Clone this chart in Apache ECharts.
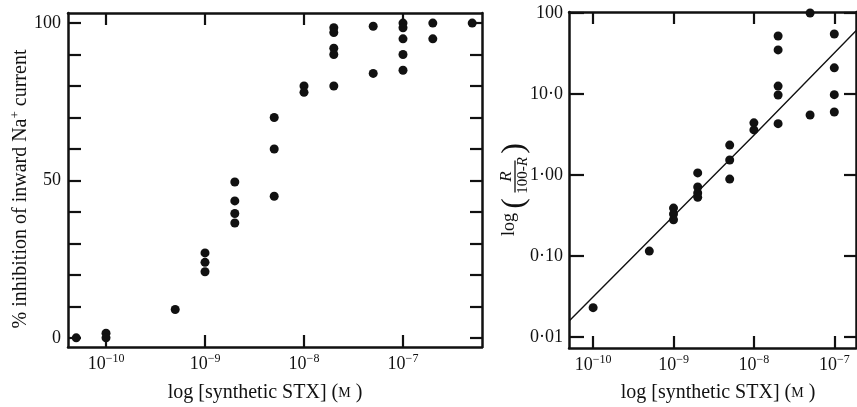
<!DOCTYPE html>
<html>
<head>
<meta charset="utf-8">
<script src="https://cdn.jsdelivr.net/npm/echarts@6/dist/echarts.min.js"></script>
<style>
  html, body { margin: 0; padding: 0; background: #fff; }
  #chart { width: 857px; height: 407px; }
</style>
</head>
<body>
<div id="chart"></div>
<script>
// left panel: % inhibition vs concentration (M)
var leftConc = [5e-11, 1e-10, 5e-10, 1e-9, 2e-9, 5e-9, 1e-8, 2e-8, 5e-8, 1e-7, 2e-7, 5e-7];
var leftInhib = [
  [0],
  [1.5, 0],
  [9],
  [27, 24, 21],
  [49.5, 43.5, 39.5, 36.5],
  [70, 60, 45],
  [80, 78],
  [98.5, 97, 92, 90, 80],
  [99, 84],
  [100, 98.5, 95, 90, 85],
  [100, 95],
  [100]
];

// right panel: R/(100-R) vs concentration (M)
var rightConc = [1e-10, 5e-10, 1e-9, 2e-9, 5e-9, 1e-8, 2e-8, 5e-8, 1e-7];
var rightRatio = [
  [0.023],
  [0.115],
  [0.39, 0.33, 0.28],
  [1.06, 0.71, 0.6, 0.53],
  [2.34, 1.53, 0.89],
  [4.4, 3.6],
  [52, 35, 12.5, 9.7, 4.3],
  [100, 5.5],
  [55, 21, 9.8, 6]
];

// fitted line on the right panel
var fitConc = [5.1e-11, 1e-8, 1.95e-7];
var fitRatio = [0.016, 3.1, 63];

var decadeTicks = [1e-10, 1e-9, 1e-8, 1e-7];
var pctTicks = [0, 10, 20, 30, 40, 50, 60, 70, 80, 90, 100];
var pctLabels = [0, 50, 100];
var ratioTicks = [0.01, 0.1, 1, 10, 100];
var ratioLabels = { '-2': '0·01', '-1': '0·10', '0': '1·00', '1': '10·0', '2': '100' };

var serif = '"Liberation Serif", "DejaVu Serif", serif';
var ink = '#111';

function pairs(xs, groups) {
  var out = [];
  for (var i = 0; i < xs.length; i++) {
    for (var j = 0; j < groups[i].length; j++) out.push([xs[i], groups[i][j]]);
  }
  return out;
}

function powLabel(v) {
  var e = Math.round(Math.log10(v));
  return '{b|10}{s|' + (e < 0 ? '\u2212' + (-e) : e) + '}';
}
var powRich = {
  b: { fontSize: 18, fontFamily: serif, color: ink, lineHeight: 20, verticalAlign: 'bottom' },
  s: { fontSize: 12, fontFamily: serif, color: ink, lineHeight: 12, verticalAlign: 'top' }
};

var axisLine = { show: true, onZero: false, lineStyle: { color: ink, width: 2.5 } };

function xAx(grid, min, max, pos, labels) {
  return {
    gridIndex: grid, type: 'log', logBase: 10, min: min, max: max, position: pos,
    axisLine: axisLine,
    axisTick: { show: true, inside: true, length: 12, customValues: decadeTicks, lineStyle: { color: ink, width: 2.2 } },
    axisLabel: labels ? { show: true, customValues: decadeTicks, formatter: powLabel, rich: powRich, margin: 6 } : { show: false },
    splitLine: { show: false }, minorTick: { show: false }
  };
}

var myChart = echarts.init(document.getElementById('chart'));
myChart.setOption({
  backgroundColor: '#fff',
  animation: false,
  grid: [
    { left: 68, top: 13, width: 414, height: 334 },
    { left: 569, top: 12, width: 287, height: 336 }
  ],
  xAxis: [
    xAx(0, Math.pow(10, -10.384), Math.pow(10, -6.202), 'bottom', true),
    xAx(0, Math.pow(10, -10.384), Math.pow(10, -6.202), 'top', false),
    xAx(1, Math.pow(10, -10.3), Math.pow(10, -6.73), 'bottom', true),
    xAx(1, Math.pow(10, -10.3), Math.pow(10, -6.73), 'top', false)
  ],
  yAxis: [
    {
      gridIndex: 0, type: 'value', min: -2.9, max: 103.2, position: 'left',
      axisLine: axisLine,
      axisTick: { show: true, inside: true, length: 13, customValues: pctTicks, lineStyle: { color: ink, width: 2.2 } },
      axisLabel: { show: true, customValues: pctLabels, fontSize: 18, fontFamily: serif, color: ink, margin: 7 },
      splitLine: { show: false }
    },
    {
      gridIndex: 0, type: 'value', min: -2.9, max: 103.2, position: 'right',
      axisLine: axisLine,
      axisTick: { show: true, inside: true, length: 12, customValues: pctTicks, lineStyle: { color: ink, width: 2.2 } },
      axisLabel: { show: false },
      splitLine: { show: false }
    },
    {
      gridIndex: 1, type: 'log', logBase: 10, min: Math.pow(10, -2.136), max: Math.pow(10, 2.012), position: 'left',
      axisLine: axisLine,
      axisTick: { show: true, inside: true, length: 15, customValues: ratioTicks, lineStyle: { color: ink, width: 2.2 } },
      axisLabel: {
        show: true, customValues: ratioTicks, fontSize: 18, fontFamily: serif, color: ink, margin: 6,
        formatter: function (v) { return ratioLabels[String(Math.round(Math.log10(v)))]; }
      },
      splitLine: { show: false }, minorTick: { show: false }
    },
    {
      gridIndex: 1, type: 'log', logBase: 10, min: Math.pow(10, -2.136), max: Math.pow(10, 2.012), position: 'right',
      axisLine: axisLine,
      axisTick: { show: true, inside: true, length: 12, customValues: ratioTicks, lineStyle: { color: ink, width: 2.2 } },
      axisLabel: { show: false },
      splitLine: { show: false }, minorTick: { show: false }
    }
  ],
  series: [
    {
      type: 'scatter', xAxisIndex: 0, yAxisIndex: 0,
      symbol: 'circle', symbolSize: 9,
      itemStyle: { color: ink, opacity: 1 },
      data: pairs(leftConc, leftInhib)
    },
    {
      type: 'scatter', xAxisIndex: 2, yAxisIndex: 2,
      symbol: 'circle', symbolSize: 9,
      itemStyle: { color: ink, opacity: 1 },
      data: pairs(rightConc, rightRatio)
    },
    {
      type: 'line', xAxisIndex: 2, yAxisIndex: 2,
      symbol: 'none', smooth: false, clip: true,
      lineStyle: { color: ink, width: 1.4 },
      data: fitConc.map(function (c, i) { return [c, fitRatio[i]]; })
    }
  ],
  graphic: [
    // left y title
    {
      type: 'text', x: 20, y: 189, rotation: Math.PI / 2,
      style: {
        text: '{t|% inhibition of inward Na}{s|+}{t| current}',
        align: 'center', verticalAlign: 'middle', fill: ink,
        rich: {
          t: { fontSize: 20, fontFamily: serif, fill: ink, lineHeight: 22, verticalAlign: 'bottom' },
          s: { fontSize: 13, fontFamily: serif, fill: ink, lineHeight: 13, verticalAlign: 'top' }
        }
      }
    },
    // x titles
    {
      type: 'text', x: 265, y: 393,
      style: {
        text: '{t|log [synthetic STX] (}{m|M}{t| )}',
        align: 'center', verticalAlign: 'middle', fill: ink,
        rich: { t: { fontSize: 20, fontFamily: serif, fill: ink }, m: { fontSize: 14, fontFamily: serif, fill: ink } }
      }
    },
    {
      type: 'text', x: 718, y: 393,
      style: {
        text: '{t|log [synthetic STX] (}{m|M}{t| )}',
        align: 'center', verticalAlign: 'middle', fill: ink,
        rich: { t: { fontSize: 20, fontFamily: serif, fill: ink }, m: { fontSize: 14, fontFamily: serif, fill: ink } }
      }
    },
    // right y title: log( R / (100-R) )
    {
      type: 'group', x: 512, y: 186.5, rotation: Math.PI / 2,
      children: [
        { type: 'text', x: -38, y: -3, style: { text: 'log', fontSize: 18, fontFamily: serif, fill: ink, align: 'center', verticalAlign: 'middle' } },
        { type: 'text', x: -17, y: 3, style: { text: '(', fontSize: 32, fontFamily: serif, fill: ink, align: 'center', verticalAlign: 'middle' } },
        { type: 'text', x: 10, y: -5, style: { text: 'R', fontSize: 17, fontStyle: 'italic', fontFamily: serif, fill: ink, align: 'center', verticalAlign: 'middle' } },
        { type: 'line', shape: { x1: -6, y1: 3, x2: 26, y2: 3 }, style: { stroke: ink, lineWidth: 1.3 } },
        {
          type: 'text', x: 11, y: 11,
          style: {
            text: '{n|100-}{r|R}', align: 'center', verticalAlign: 'middle', fill: ink,
            rich: { n: { fontSize: 15, fontFamily: serif, fill: ink }, r: { fontSize: 15, fontStyle: 'italic', fontFamily: serif, fill: ink } }
          }
        },
        { type: 'text', x: 38, y: 3, style: { text: ')', fontSize: 32, fontFamily: serif, fill: ink, align: 'center', verticalAlign: 'middle' } }
      ]
    }
  ]
});
</script>
</body>
</html>
